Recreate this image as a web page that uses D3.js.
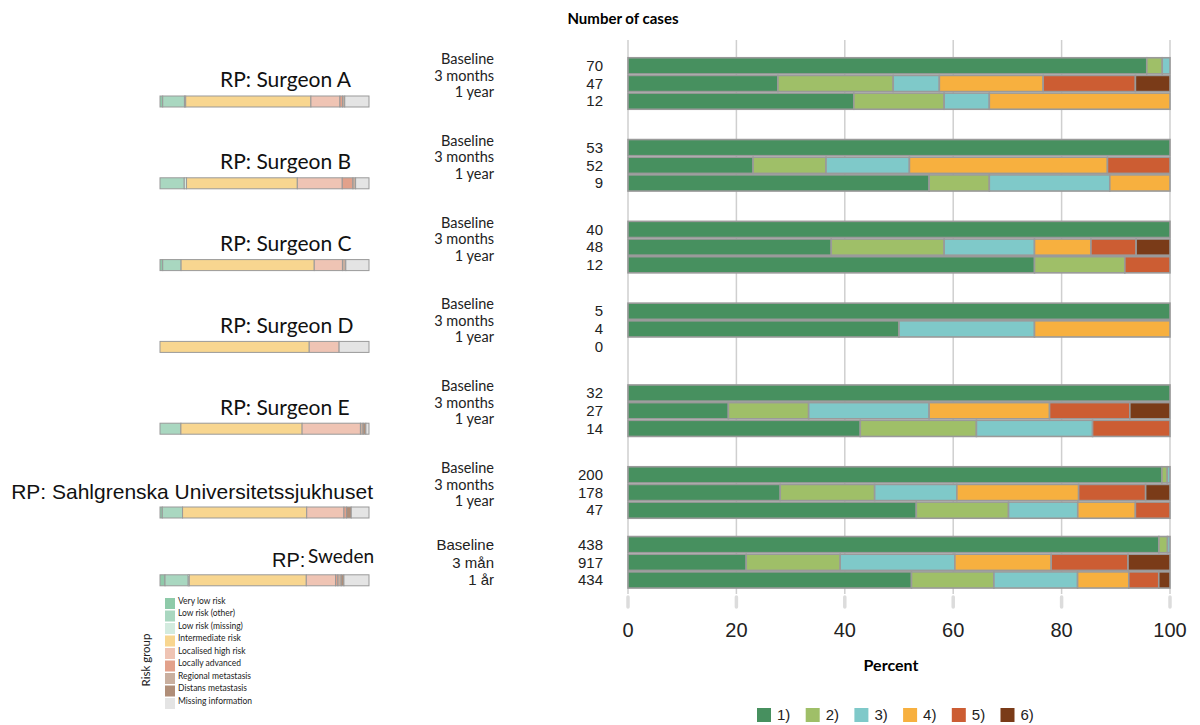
<!DOCTYPE html>
<html><head><meta charset="utf-8">
<script src="https://cdn.jsdelivr.net/npm/d3@7"></script>
<style>body{margin:0;background:#fff}</style></head>
<body><svg id="c" width="1200" height="725"></svg>
<script>
// ---------- DATA ----------
const groupLabels = ["RP: Surgeon A","RP: Surgeon B","RP: Surgeon C","RP: Surgeon D","RP: Surgeon E","RP: Sahlgrenska Universitetssjukhuset","RP: Sweden"];
const periodLabels = ["Baseline","3 months","1 year"];
const periodLabelsSv = ["Baseline","3 mån","1 år"];
const outcomeLabels = ["1)","2)","3)","4)","5)","6)"];
const outcomeColors = ["#47905f","#9fbf68","#7fc9c9","#f7b03f","#cc5d33","#7a3b18"];
// counts per outcome (1..6) for Baseline, 3 months, 1 year
const casesA = [[67,2,1,0,0,0],[13,10,4,9,8,3],[5,2,1,4,0,0]];
const casesB = [[53,0,0,0,0,0],[12,7,8,19,6,0],[5,1,2,1,0,0]];
const casesC = [[40,0,0,0,0,0],[18,10,8,5,4,3],[9,2,0,0,1,0]];
const casesD = [[5,0,0,0,0,0],[2,0,1,1,0,0],[0,0,0,0,0,0]];
const casesE = [[32,0,0,0,0,0],[5,4,6,6,4,2],[6,3,3,0,2,0]];
const casesSahl = [[197,2,1,0,0,0],[50,31,27,40,22,8],[25,8,6,5,3,0]];
const casesSweden = [[429,7,2,0,0,0],[200,159,194,163,130,71],[227,66,67,41,24,9]];
const allCases = [casesA,casesB,casesC,casesD,casesE,casesSahl,casesSweden];

const riskLabels = ["Very low risk","Low risk (other)","Low risk (missing)","Intermediate risk","Localised high risk","Locally advanced","Regional metastasis","Distans metastasis","Missing information"];
const riskColors = ["#8ecaa9","#a9d7c0","#d3ebdf","#f8d690","#efc4b4","#e2a18b","#c9af9f","#b08e78","#e4e4e4"];
// risk group distribution (%) per unit
const riskA = [1.3,10.4,0.6,59.9,13.9,1.3,1.0,0,11.6];
const riskB = [0,11.6,1.1,53.0,21.5,5.1,1.3,0,6.4];
const riskC = [1.3,8.8,0,63.7,13.5,0,1.6,0,11.1];
const riskD = [0,0,0,71.4,14.3,0,0,0,14.3];
const riskE = [0,10.0,0,58.0,27.9,0,1.3,1.3,1.5];
const riskSahl = [1.1,9.7,0,59.4,17.8,1.3,0,2.2,8.5];
const riskSweden = [2.4,11.1,0.5,56.0,14.0,1.1,1.6,1.3,12.0];
const allRisk = [riskA,riskB,riskC,riskD,riskE,riskSahl,riskSweden];
const xTicks = [0,20,40,60,80,100];

// ---------- LAYOUT ----------
const svg = d3.select("#c");
const x = d3.scaleLinear().domain([0,100]).range([628,1170]);
const gTop = d3.scaleLinear().domain([0,5]).range([57,466]);
const groupTop = i => gTop(i) - (i===6 ? 12 : 0);
const row = d3.scaleBand().domain([0,1,2]).range([0,53]);
const riskX = d3.scaleLinear().domain([0,100]).range([160,369]);

const calib = "Lato, 'Open Sans', sans-serif";
const arial = "'Liberation Sans', Arial, sans-serif";

// title
svg.append("text").attr("x",623).attr("y",24).attr("text-anchor","middle")
  .attr("font-family",calib).attr("font-weight","bold").attr("font-size",15).text("Number of cases");

// gridlines
svg.append("g").selectAll("line").data(xTicks).join("line")
  .attr("x1",d=>x(d)).attr("x2",d=>x(d)).attr("y1",40).attr("y2",594)
  .attr("stroke","#cfcfcf").attr("stroke-width",1.5);
svg.append("g").selectAll("line").data(xTicks).join("line")
  .attr("x1",d=>x(d)).attr("x2",d=>x(d)).attr("y1",597).attr("y2",607)
  .attr("stroke","#dcdcdc").attr("stroke-width",3.5).attr("stroke-linecap","round");
svg.append("g").selectAll("text").data(xTicks).join("text")
  .attr("x",d=>x(d)).attr("y",637).attr("text-anchor","middle")
  .attr("font-family",arial).attr("font-size",20).attr("fill","#222").text(d=>d);
svg.append("text").attr("x",891).attr("y",671).attr("text-anchor","middle")
  .attr("font-family",calib).attr("font-weight","bold").attr("font-size",16).text("Percent");

// groups
allCases.forEach((cases,gi)=>{
  const top = groupTop(gi);
  const isSv = gi===6;
  const g = svg.append("g");
  cases.forEach((counts,ri)=>{
    const n = d3.sum(counts);
    const y0 = top + row(ri);
    const h = row.bandwidth();
    if(n>0){
      let cum = 0;
      const segs = counts.map((c,k)=>{const s={k,a:cum/n*100,b:(cum+c)/n*100}; cum+=c; return s;}).filter(s=>s.b>s.a);
      g.selectAll(null).data(segs).join("rect")
        .attr("x",s=>x(s.a)).attr("width",s=>x(s.b)-x(s.a))
        .attr("y",y0+0.75).attr("height",h-1.5)
        .attr("fill",s=>outcomeColors[s.k]).attr("stroke","#9a9a9a").attr("stroke-width",1.6);
    }
    g.append("text").attr("x",603).attr("y",y0+h/2).attr("dy","0.35em")
      .attr("text-anchor","end").attr("font-family",arial).attr("font-size",15).attr("fill","#222").text(n);
    if(isSv){
      g.append("text").attr("x",494).attr("y",y0+h/2).attr("dy","0.35em")
        .attr("text-anchor","end").attr("font-family",arial).attr("font-size",15).attr("fill","#222").text(periodLabelsSv[ri]);
    } else {
      g.append("text").attr("x",494).attr("y",top+2+ri*16.5).attr("dy","0.35em")
        .attr("text-anchor","end").attr("font-family",calib).attr("font-size",14.5).attr("fill","#222").text(periodLabels[ri]);
    }
  });
  // group label
  if(gi<5){
    g.append("text").attr("x",220).attr("y",top+23).attr("dy","0.35em")
      .attr("font-family",calib).attr("font-size",21).attr("fill","#111").text(groupLabels[gi]);
  } else if(gi===5){
    g.append("text").attr("x",373).attr("y",top+26).attr("dy","0.35em").attr("text-anchor","end")
      .attr("font-family",arial).attr("font-size",21).attr("fill","#111").text(groupLabels[gi]);
  } else {
    const parts = groupLabels[gi].split(" ");
    g.append("text").attr("x",272).attr("y",top+24).attr("dy","0.35em")
      .attr("font-family",arial).attr("font-size",20).attr("fill","#111").text(parts[0]);
    g.append("text").attr("x",308).attr("y",top+21).attr("dy","0.35em")
      .attr("font-family",calib).attr("font-size",19).attr("fill","#111").text(parts[1]);
  }
  // risk bar
  const rTop = top + (gi===5 ? 41 : 39);
  let cum = 0;
  const rsegs = allRisk[gi].map((v,k)=>{const s={k,a:cum,b:cum+v}; cum+=v; return s;}).filter(s=>s.b>s.a);
  g.selectAll(null).data(rsegs).join("rect")
    .attr("x",s=>riskX(s.a)).attr("width",s=>riskX(s.b)-riskX(s.a))
    .attr("y",rTop).attr("height",11)
    .attr("fill",s=>riskColors[s.k]).attr("stroke","#999").attr("stroke-width",1);
});

// risk legend
const rl = svg.append("g");
rl.selectAll("rect").data(riskLabels).join("rect")
  .attr("x",165).attr("y",(d,i)=>598+i*12.5).attr("width",10).attr("height",11)
  .attr("fill",(d,i)=>riskColors[i]);
rl.selectAll("text").data(riskLabels).join("text")
  .attr("x",178).attr("y",(d,i)=>601+i*12.5).attr("dy","0.35em")
  .attr("font-family",calib).attr("font-size",8.5).attr("fill","#222").text(d=>d);
svg.append("text").attr("transform","translate(150,660) rotate(-90)").attr("text-anchor","middle")
  .attr("font-family",calib).attr("font-size",11.5).attr("fill","#222").text("Risk group");

// outcome legend
const ol = svg.append("g");
outcomeLabels.forEach((l,i)=>{
  const lx = 757 + i*48.7;
  ol.append("rect").attr("x",lx).attr("y",708).attr("width",14).attr("height",14).attr("fill",outcomeColors[i]);
  ol.append("text").attr("x",lx+20).attr("y",715).attr("dy","0.35em")
    .attr("font-family",arial).attr("font-size",15).attr("fill","#222").text(l);
});
</script></body></html>
